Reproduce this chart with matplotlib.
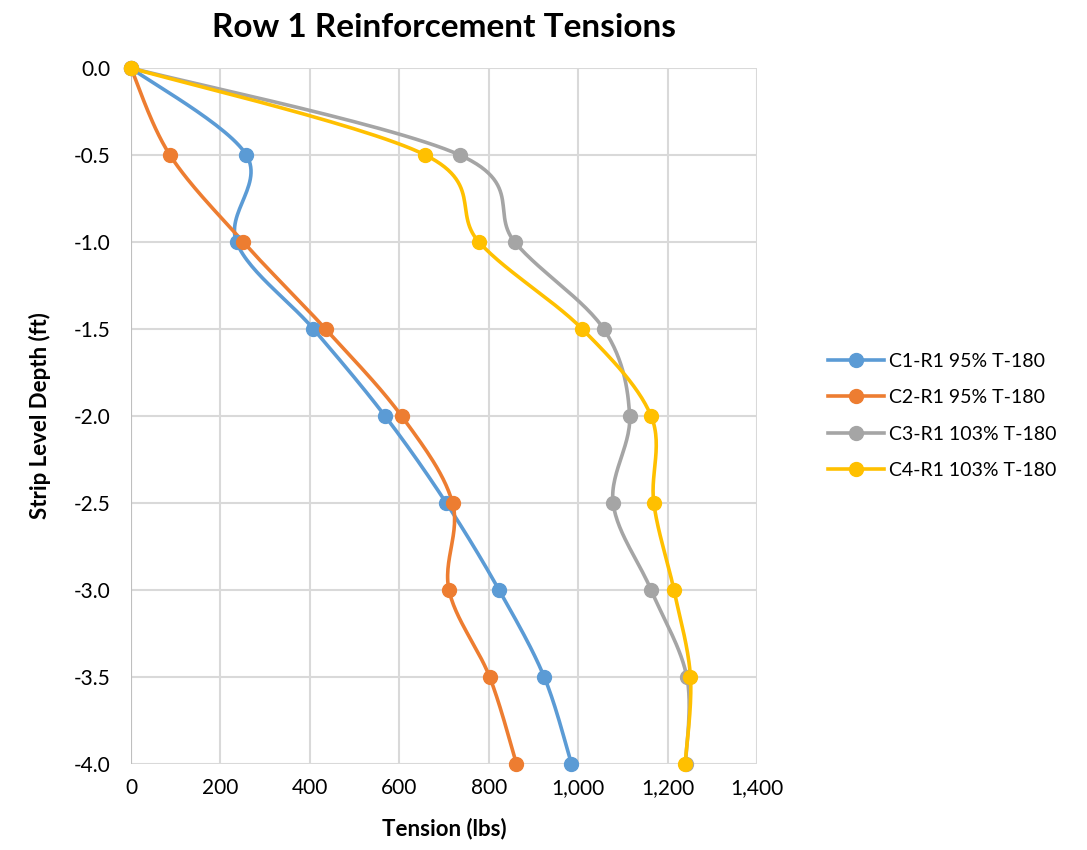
import numpy as np
import matplotlib
matplotlib.use('Agg')
import matplotlib.pyplot as plt
from matplotlib.ticker import FuncFormatter

plt.rcParams['font.family'] = ['Lato', 'DejaVu Sans']

depth = [0.0, -0.5, -1.0, -1.5, -2.0, -2.5, -3.0, -3.5, -4.0]
c1_r1 = [0, 258, 236, 408, 568, 705, 823, 924, 985]
c2_r1 = [0, 87, 251, 435, 605, 719, 711, 802, 862]
c3_r1 = [0, 735, 858, 1057, 1115, 1078, 1163, 1243, 1240]
c4_r1 = [0, 658, 778, 1009, 1163, 1169, 1214, 1251, 1239]
labels = ['C1-R1 95% T-180', 'C2-R1 95% T-180', 'C3-R1 103% T-180', 'C4-R1 103% T-180']
colors = ['#5B9BD5', '#ED7D31', '#A5A5A5', '#FFC000']


def smooth(ax, xs, ys, n=30):
    # Excel style smoothed line: cubic bezier with catmull-rom control points in screen space
    pts = ax.transData.transform(np.column_stack([xs, ys]))
    out = []
    m = len(pts)
    for i in range(m - 1):
        p0 = pts[max(i - 1, 0)]
        p1 = pts[i]
        p2 = pts[i + 1]
        p3 = pts[min(i + 2, m - 1)]
        c1 = p1 + (p2 - p0) / 6.0
        c2 = p2 - (p3 - p1) / 6.0
        t = np.linspace(0, 1, n)[:, None]
        seg = ((1 - t) ** 3) * p1 + 3 * ((1 - t) ** 2) * t * c1 + 3 * (1 - t) * t ** 2 * c2 + t ** 3 * p2
        out.append(seg if i == 0 else seg[1:])
    out = np.vstack(out)
    d = ax.transData.inverted().transform(out)
    return d[:, 0], d[:, 1]


fig = plt.figure(figsize=(10.87, 8.5), dpi=100)
ax = fig.add_axes([0.1205, 0.1012, 0.576, 0.8188])
ax.set_xlim(0, 1400)
ax.set_ylim(-4.0, 0.0)
ax.set_xticks(np.arange(0, 1401, 200))
ax.set_yticks(np.arange(-4.0, 0.01, 0.5))
ax.xaxis.set_major_formatter(FuncFormatter(lambda v, p: f'{v:,.0f}'))
ax.yaxis.set_major_formatter(FuncFormatter(lambda v, p: f'{v:.1f}'))
ax.grid(True, color='#D9D9D9', linewidth=1.5)
ax.set_axisbelow(True)
for s in ax.spines.values():
    s.set_visible(False)
ax.axvline(0, color='#BFBFBF', linewidth=1.5, zorder=1)
ax.tick_params(length=0, labelsize=15)
ax.tick_params(axis='y', pad=15)
ax.tick_params(axis='x', pad=10)

for vals, lab, col in zip([c1_r1, c2_r1, c3_r1, c4_r1], labels, colors):
    sx, sy = smooth(ax, vals, depth)
    ax.plot(sx, sy, color=col, linewidth=2.6, zorder=3, clip_on=False)
    ax.plot(vals, depth, 'o', color=col, markersize=10, zorder=4, clip_on=False)
    ax.plot([], [], '-o', color=col, linewidth=2.6, markersize=10, label=lab)

ax.set_title('Row 1 Reinforcement Tensions', fontsize=24, fontweight='bold', pad=22)
ax.set_xlabel('Tension (lbs)', fontsize=16, fontweight='bold', labelpad=14)
ax.set_ylabel('Strip Level Depth (ft)', fontsize=16, fontweight='bold', labelpad=16)

ax.legend(loc='center left', bbox_to_anchor=(1.085, 0.5), frameon=False, fontsize=14,
          handlelength=2.9, labelspacing=1.0, handletextpad=0.25)

fig.savefig('out.png', dpi=100)
